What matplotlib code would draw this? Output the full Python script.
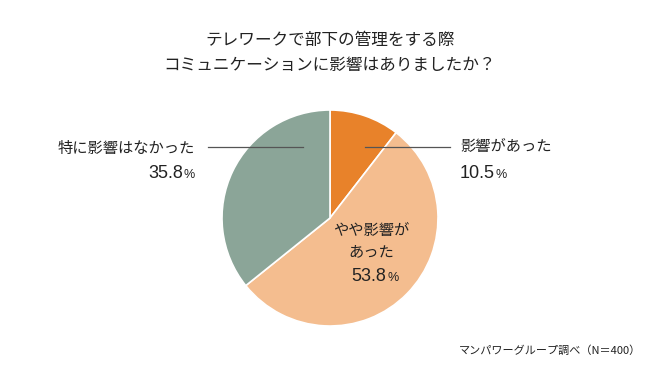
import matplotlib
matplotlib.use("Agg")
import matplotlib.pyplot as plt

plt.rcParams['font.family'] = ['Noto Sans CJK JP', 'DejaVu Sans']

# Data
labels = ['影響があった', 'やや影響が\nあった', '特に影響はなかった']
values = [10.5, 53.8, 35.8]
colors = ['#E8822A', '#F4BD8F', '#8BA598']
title = 'テレワークで部下の管理をする際\nコミュニケーションに影響はありましたか？'
source = 'マンパワーグループ調べ（N＝400）'

W, H = 660, 376
fig = plt.figure(figsize=(W / 100, H / 100), dpi=100)
ax = fig.add_axes([0, 0, 1, 1])
ax.set_xlim(0, W)
ax.set_ylim(0, H)
ax.set_aspect('equal')
ax.axis('off')

def y(py):
    return H - py

ax.pie(values, colors=colors, startangle=90, counterclock=False,
       center=(330, y(218)), radius=108,
       wedgeprops=dict(edgecolor='white', linewidth=1.2))
ax.set_xlim(0, W)
ax.set_ylim(0, H)

ax.text(330, y(53), title, ha='center', va='center', fontsize=12,
        linespacing=1.55, color='#222222')

fig.canvas.draw()
renderer = fig.canvas.get_renderer()
num_font = dict(family=['Liberation Sans'], fontsize=13, color='#222222')
pc_font = dict(family=['Liberation Sans'], fontsize=9, color='#222222')

def pct(x, py, val, ha):
    # number + smaller percent sign
    if ha == 'right':
        t = ax.text(x, y(py), '%', ha='right', va='baseline', **pc_font)
        bb = t.get_window_extent(renderer)
        ax.text(bb.x0 - 1, y(py), f'{val}', ha='right', va='baseline', **num_font)
    elif ha == 'left':
        t = ax.text(x, y(py), f'{val}', ha='left', va='baseline', **num_font)
        bb = t.get_window_extent(renderer)
        ax.text(bb.x1 + 1, y(py), '%', ha='left', va='baseline', **pc_font)
    else:
        ax.text(x, y(py), f'{val}', ha='right', va='baseline', **num_font)
        ax.text(x + 1, y(py), '%', ha='left', va='baseline', **pc_font)

# left label (特に影響はなかった)
ax.text(195, y(148), labels[2], ha='right', va='center', fontsize=11, color='#222222')
pct(195, 178, values[2], 'right')
ax.plot([208, 303], [y(147), y(147)], color='#555555', lw=0.9)

# right label (影響があった)
ax.text(460, y(147), labels[0], ha='left', va='center', fontsize=11, color='#222222')
pct(460, 178, values[0], 'left')
ax.plot([365, 450], [y(147), y(147)], color='#555555', lw=0.9)

# inner label (やや影響があった)
for i, line in enumerate(labels[1].split('\n')):
    ax.text(371, y(230 + 22 * i), line, ha='center', va='center', fontsize=11,
            color='#222222')
pct(386, 281, values[1], 'center')

ax.text(641, y(351), source, ha='right', va='center', fontsize=8, color='#222222')

fig.savefig('out.png', dpi=100)
